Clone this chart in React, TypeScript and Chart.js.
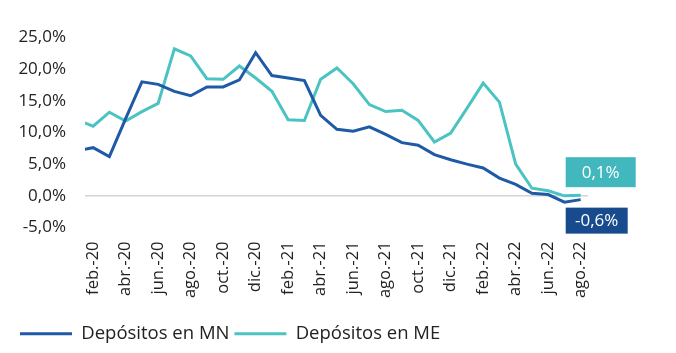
import React, { useEffect, useRef } from "react";
import { Chart, registerables } from "chart.js";

Chart.register(...registerables);

const months: string[] = [
  "ene.-20", "feb.-20", "mar.-20", "abr.-20", "may.-20", "jun.-20", "jul.-20", "ago.-20",
  "sep.-20", "oct.-20", "nov.-20", "dic.-20",
  "ene.-21", "feb.-21", "mar.-21", "abr.-21", "may.-21", "jun.-21", "jul.-21", "ago.-21",
  "sep.-21", "oct.-21", "nov.-21", "dic.-21",
  "ene.-22", "feb.-22", "mar.-22", "abr.-22", "may.-22", "jun.-22", "jul.-22", "ago.-22",
];

const depositosMN: number[] = [
  7.1, 7.6, 6.2, 12.2, 18.0, 17.6, 16.5, 15.8, 17.2, 17.2, 18.3, 22.6,
  19.0, 18.6, 18.2, 12.7, 10.5, 10.2, 10.9, 9.7, 8.4, 8.0, 6.5, 5.7,
  5.0, 4.4, 2.8, 1.8, 0.4, 0.2, -1.0, -0.6,
];

const depositosME: number[] = [
  12.0, 11.0, 13.2, 11.8, 13.3, 14.6, 23.2, 22.1, 18.5, 18.4, 20.5, 18.6,
  16.5, 12.0, 11.9, 18.4, 20.2, 17.7, 14.4, 13.3, 13.5, 11.9, 8.5, 9.9,
  13.8, 17.8, 14.8, 5.0, 1.2, 0.8, 0.0, 0.1,
];

const seriesNames: string[] = ["Depósitos en MN", "Depósitos en ME"];
const tickIndices: number[] = [1, 3, 5, 7, 9, 11, 13, 15, 17, 19, 21, 23, 25, 27, 29, 31];
const yTicks: number[] = [-5, 0, 5, 10, 15, 20, 25];

const COLOR_MN = "#1f5aa6";
const COLOR_ME = "#4cc3c3";
const BOX_MN = "#174b8e";
const BOX_ME = "#42b7be";
const FONT = "'Open Sans', 'Noto Sans', sans-serif";

const fmt = (v: number) => v.toFixed(1).replace(".", ",") + "%";

const endLabels = {
  id: "endLabels",
  afterDatasetsDraw(chart: any) {
    const ctx = chart.ctx;
    const drawBox = (dsIndex: number, color: string, w: number, h: number, dy: number) => {
      const meta = chart.getDatasetMeta(dsIndex);
      const pts = meta.data;
      const last = pts[pts.length - 1];
      const data = chart.data.datasets[dsIndex].data;
      const val = data[data.length - 1].y;
      const x = last.x - 15;
      const y = last.y + dy;
      ctx.save();
      ctx.fillStyle = color;
      ctx.fillRect(x, y, w, h);
      ctx.fillStyle = "#ffffff";
      ctx.font = `17px ${FONT}`;
      ctx.textAlign = "center";
      ctx.textBaseline = "middle";
      ctx.fillText(fmt(val), x + w / 2, y + h / 2 + 1);
      ctx.restore();
    };
    drawBox(1, BOX_ME, 70, 30, -38);
    drawBox(0, BOX_MN, 62, 26, 8);
  },
};

export default function App() {
  const ref = useRef<HTMLCanvasElement | null>(null);

  useEffect(() => {
    if (!ref.current) return;
    const toPts = (arr: number[]) => arr.map((v, i) => ({ x: i, y: v }));
    const chart = new Chart(ref.current, {
      type: "line",
      data: {
        datasets: [
          {
            label: seriesNames[0],
            data: toPts(depositosMN),
            borderColor: COLOR_MN,
            backgroundColor: COLOR_MN,
            borderWidth: 3,
            pointRadius: 0,
            tension: 0,
            clip: 0,
          } as any,
          {
            label: seriesNames[1],
            data: toPts(depositosME),
            borderColor: COLOR_ME,
            backgroundColor: COLOR_ME,
            borderWidth: 3,
            pointRadius: 0,
            tension: 0,
            clip: 0,
          } as any,
        ],
      },
      options: {
        animation: false,
        responsive: true,
        maintainAspectRatio: false,
        layout: { padding: { top: 37.5, left: 15, right: 88, bottom: 0 } },
        scales: {
          x: {
            type: "linear",
            min: 0.5,
            max: 31.45,
            grid: { display: false, drawTicks: false },
            border: { display: false },
            afterBuildTicks: (scale: any) => {
              scale.ticks = tickIndices.map((v) => ({ value: v }));
            },
            afterFit: (scale: any) => {
              scale.height = 92;
            },
            ticks: {
              autoSkip: false,
              minRotation: 90,
              maxRotation: 90,
              padding: 14,
              color: "#222222",
              font: { family: FONT, size: 16.5 },
              callback: (v: any) => months[v as number] ?? "",
            },
          },
          y: {
            min: -5,
            max: 25,
            afterBuildTicks: (scale: any) => {
              scale.ticks = yTicks.map((v) => ({ value: v }));
            },
            afterFit: (scale: any) => {
              scale.width = 70;
            },
            grid: {
              drawTicks: false,
              color: (c: any) => (c.tick && c.tick.value === 0 ? "#d3d3d3" : "rgba(0,0,0,0)"),
              lineWidth: 1.5,
            },
            border: { display: false },
            ticks: {
              padding: 19,
              color: "#222222",
              font: { family: FONT, size: 17 },
              callback: (v: any) => fmt(Number(v)),
            },
          },
        },
        plugins: {
          legend: {
            position: "bottom",
            align: "start",
            labels: {
              usePointStyle: true,
              pointStyle: "line",
              pointStyleWidth: 52,
              padding: 5,
              color: "#222222",
              font: { family: FONT, size: 18.5 },
            },
          },
          tooltip: { enabled: false },
        },
      },
      plugins: [endLabels],
    });
    return () => chart.destroy();
  }, []);

  return (
    <div style={{ position: "absolute", left: 0, top: 0, width: 676, height: 353, background: "#fff" }}>
      <canvas ref={ref} />
    </div>
  );
}
